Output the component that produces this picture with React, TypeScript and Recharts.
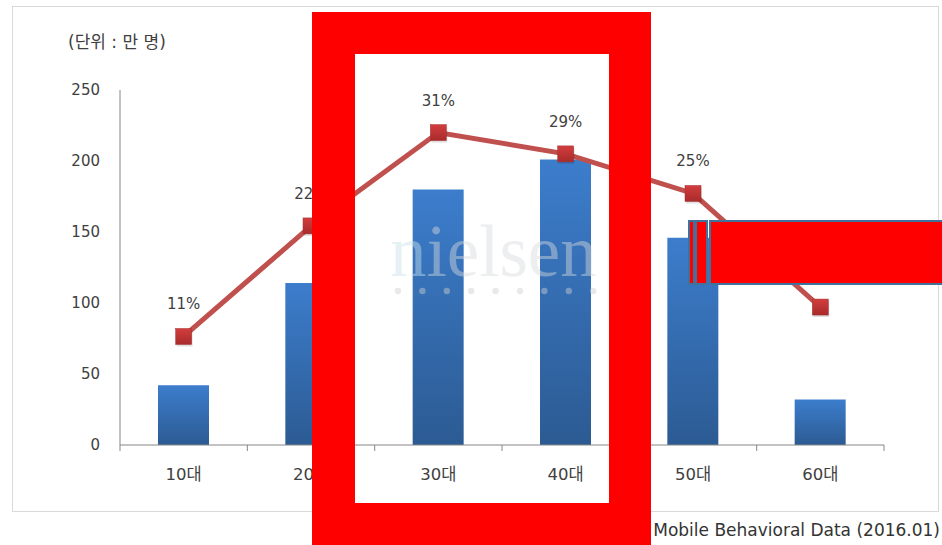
import React from 'react';
import { ComposedChart, Bar, Line, XAxis, YAxis, LabelList } from 'recharts';

// 연령대별 이용자 수 (만 명) 와 비율 (%)
const ages = ['10대', '20대', '30대', '40대', '50대', '60대'];
const users = [42, 114, 180, 201, 146, 32];
const shares = [10.7, 21.6, 30.8, 28.7, 24.8, 13.6];
const yTicks = [0, 50, 100, 150, 200, 250];

const W = 942;
const H = 545;
const PLOT_LEFT = 120;
const PLOT_RIGHT = 884;
const PLOT_TOP = 90;
const PLOT_BOTTOM = 445;
const FONT = '"DejaVu Sans", "Noto Sans CJK KR", sans-serif';
const TEXT = '#404040';

const data = ages.map((age, i) => ({ age, users: users[i], share: shares[i] }));

const AgeTick = (props: any) => {
  const { x, y, payload, index } = props;
  const half = (PLOT_RIGHT - PLOT_LEFT) / ages.length / 2;
  return (
    <g>
      <line x1={x - half} x2={x - half} y1={y} y2={y + 6} stroke="#868686" />
      {index === ages.length - 1 && (
        <line x1={x + half} x2={x + half} y1={y} y2={y + 6} stroke="#868686" />
      )}
      <text x={x} y={y + 29} textAnchor="middle" dominantBaseline="central"
        fontSize={16.5} fill={TEXT} fontFamily={FONT}>
        {payload.value}
      </text>
    </g>
  );
};

const SquareDot = (props: any) => {
  const { cx, cy, index } = props;
  if (cx == null || cy == null) return null;
  return (
    <g key={`dot-${index}`}>
      <rect x={cx - 7} y={cy - 6} width={16} height={16} fill="#000" opacity={0.12} />
      <rect x={cx - 8} y={cy - 8} width={16} height={16} fill="url(#dotFill)" stroke="#a33030" strokeWidth={0.5} />
    </g>
  );
};

const ShareLabel = (props: any) => {
  const { x, y, value } = props;
  return (
    <text x={x} y={y - 32} textAnchor="middle" dominantBaseline="central"
      fontSize={15} fill={TEXT} fontFamily={FONT}>
      {`${Math.round(value)}%`}
    </text>
  );
};

export default function App() {
  const dots = Array.from({ length: 9 }, (_, i) => 398 + i * 24.4);
  return (
    <div style={{ position: 'absolute', left: 0, top: 0, width: W, height: H, background: '#fff', fontFamily: FONT }}>
      <div style={{ position: 'absolute', left: 12, top: 6, width: 925, height: 504, border: '1px solid #d9d9d9' }} />
      <div style={{ position: 'absolute', left: 0, top: 0 }}>
        <ComposedChart width={W} height={H} data={data}
          margin={{ top: PLOT_TOP, right: W - PLOT_RIGHT, bottom: H - PLOT_BOTTOM - 30, left: PLOT_LEFT - 60 }}>
          <defs>
            <linearGradient id="barFill" x1="0" y1="0" x2="0" y2="1">
              <stop offset="0%" stopColor="#3c7dcc" />
              <stop offset="100%" stopColor="#2c5b93" />
            </linearGradient>
            <linearGradient id="dotFill" x1="0" y1="0" x2="0" y2="1">
              <stop offset="0%" stopColor="#d23d3d" />
              <stop offset="100%" stopColor="#a92b2b" />
            </linearGradient>
          </defs>
          <XAxis dataKey="age" height={30} axisLine={{ stroke: '#868686' }} tickLine={false}
            tickSize={0} tickMargin={0} tick={<AgeTick />} interval={0} />
          <YAxis yAxisId="users" width={60} domain={[0, 250]} ticks={yTicks} axisLine={{ stroke: '#868686' }}
            tickLine={false} tickSize={0} tickMargin={20}
            tick={{ fontSize: 15, fill: TEXT, fontFamily: FONT }} />
          <YAxis yAxisId="pct" orientation="right" domain={[0, 35]} hide />
          <Bar yAxisId="users" dataKey="users" barSize={51} fill="url(#barFill)" isAnimationActive={false} />
          <Line yAxisId="pct" dataKey="share" stroke="#c0504d" strokeWidth={5} dot={<SquareDot />}
            activeDot={false} isAnimationActive={false}>
            <LabelList dataKey="share" content={<ShareLabel />} />
          </Line>
        </ComposedChart>
      </div>
      <svg width={W} height={H} style={{ position: 'absolute', left: 0, top: 0, pointerEvents: 'none' }}>
        <g opacity={0.45}>
          <text x={390} y={276} fontSize={73} fontFamily='"Liberation Serif", serif' fill="#d6dadd">
            <tspan fill="#c8e2ec">n</tspan>ielsen
          </text>
          {dots.map((d) => <circle key={d} cx={d} cy={291} r={3.2} fill="#d0d0d0" />)}
        </g>
        <text x={68} y={42} fontSize={17} fill={TEXT} fontFamily={FONT} dominantBaseline="central">(단위 : 만 명)</text>
        <text x={940} y={530} fontSize={17} fill="#333" fontFamily={FONT} textAnchor="end" dominantBaseline="central">
          Mobile Behavioral Data (2016.01)
        </text>
        {/* 강조 테두리 */}
        <rect x={312} y={12} width={339} height={42} fill="#ff0000" />
        <rect x={312} y={12} width={43} height={540} fill="#ff0000" />
        <rect x={609} y={12} width={42} height={540} fill="#ff0000" />
        <rect x={312} y={503} width={339} height={50} fill="#ff0000" />
        {/* 가림 박스 */}
        <rect x={689} y={221} width={5} height={63} fill="#ff0000" stroke="#41719c" strokeWidth={2} />
        <rect x={696} y={221} width={11} height={63} fill="#ff0000" stroke="#41719c" strokeWidth={2} />
        <rect x={710} y={221} width={240} height={63} fill="#ff0000" stroke="#41719c" strokeWidth={2} />
      </svg>
    </div>
  );
}
